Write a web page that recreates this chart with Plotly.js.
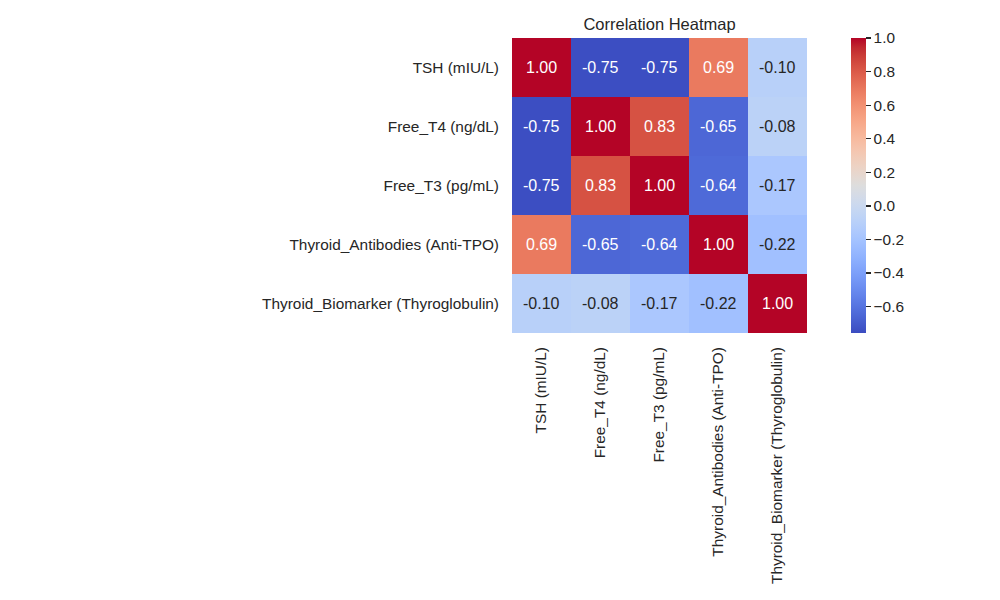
<!DOCTYPE html>
<html><head><meta charset="utf-8">
<script src="https://cdn.plot.ly/plotly-3.0.1.min.js"></script>
<style>html,body{margin:0;padding:0;background:#fff}#chart{width:1000px;height:600px}</style>
</head><body><div id="chart"></div>
<script>
const labels = ["TSH (mIU/L)", "Free_T4 (ng/dL)", "Free_T3 (pg/mL)", "Thyroid_Antibodies (Anti-TPO)", "Thyroid_Biomarker (Thyroglobulin)"];
const row0 = [1.00, -0.75, -0.75, 0.69, -0.10];
const row1 = [-0.75, 1.00, 0.83, -0.65, -0.08];
const row2 = [-0.75, 0.83, 1.00, -0.64, -0.17];
const row3 = [0.69, -0.65, -0.64, 1.00, -0.22];
const row4 = [-0.10, -0.08, -0.17, -0.22, 1.00];
const matrix = [row0, row1, row2, row3, row4];
const colorTicks = [-0.6, -0.4, -0.2, 0.0, 0.2, 0.4, 0.6, 0.8, 1.0];

const coolwarm = [
[0.0,'rgb(59,76,192)'],[0.03125,'rgb(68,90,204)'],[0.0625,'rgb(77,104,215)'],[0.09375,'rgb(87,117,225)'],
[0.125,'rgb(98,130,234)'],[0.15625,'rgb(108,142,241)'],[0.1875,'rgb(119,154,247)'],[0.21875,'rgb(130,165,251)'],
[0.25,'rgb(141,176,254)'],[0.28125,'rgb(152,185,255)'],[0.3125,'rgb(163,194,255)'],[0.34375,'rgb(174,201,253)'],
[0.375,'rgb(184,208,249)'],[0.40625,'rgb(194,213,244)'],[0.4375,'rgb(204,217,238)'],[0.46875,'rgb(213,219,230)'],
[0.5,'rgb(221,221,221)'],[0.53125,'rgb(229,216,209)'],[0.5625,'rgb(236,211,197)'],[0.59375,'rgb(241,204,185)'],
[0.625,'rgb(245,196,173)'],[0.65625,'rgb(247,187,160)'],[0.6875,'rgb(247,177,148)'],[0.71875,'rgb(247,166,135)'],
[0.75,'rgb(244,154,123)'],[0.78125,'rgb(241,141,111)'],[0.8125,'rgb(236,127,99)'],[0.84375,'rgb(229,112,88)'],
[0.875,'rgb(222,96,77)'],[0.90625,'rgb(213,80,66)'],[0.9375,'rgb(203,62,56)'],[0.96875,'rgb(192,40,47)'],
[1.0,'rgb(180,4,38)']];

const zmin = -0.757, zmax = 1.0;
const font = "'Liberation Sans', Arial, sans-serif";
const dark = '#262626';

const annotations = [];
matrix.forEach((row, i) => row.forEach((v, j) => {
  const light = v > -0.5 && v < 0.5;
  annotations.push({x: labels[j], y: labels[i], xref: 'x', yref: 'y', text: v.toFixed(2),
    showarrow: false, font: {family: font, size: 16, color: light ? dark : '#ffffff'}});
}));

const trace = {type: 'heatmap', z: matrix, x: labels, y: labels, zmin: zmin, zmax: zmax,
  colorscale: coolwarm, hoverongaps: false, xgap: 0, ygap: 0,
  colorbar: {x: (851 - 512) / 295, xanchor: 'left', xref: 'paper', xpad: 0, ypad: 0,
    y: 0.5, yanchor: 'middle', len: 1, lenmode: 'fraction',
    thickness: 15, outlinewidth: 0, ticks: 'outside', ticklen: 5, tickwidth: 1.2, tickcolor: dark,
    tickvals: colorTicks, ticktext: colorTicks.map(t => t.toFixed(1).replace('-', '\u2212')),
    tickfont: {family: font, size: 15.4, color: dark}}};

const layout = {width: 1000, height: 600, margin: {l: 512, r: 193, t: 38, b: 267},
  paper_bgcolor: '#fff', plot_bgcolor: '#fff',
  title: {text: 'Correlation Heatmap', x: (512 + 807) / 2 / 1000, xanchor: 'center', y: 1 - 24 / 600, yanchor: 'middle',
    yref: 'container', font: {family: font, size: 16.5, color: dark}},
  xaxis: {type: 'category', tickangle: -90, showgrid: false, zeroline: false, ticks: '', ticklabelstandoff: 10,
    tickfont: {family: font, size: 15.4, color: dark}, showline: false},
  yaxis: {type: 'category', autorange: 'reversed', showgrid: false, zeroline: false, ticks: '', ticklabelstandoff: 12,
    tickfont: {family: font, size: 15.4, color: dark}, showline: false},
  annotations: annotations};

Plotly.newPlot('chart', [trace], layout, {displayModeBar: false, staticPlot: true});
</script></body></html>
